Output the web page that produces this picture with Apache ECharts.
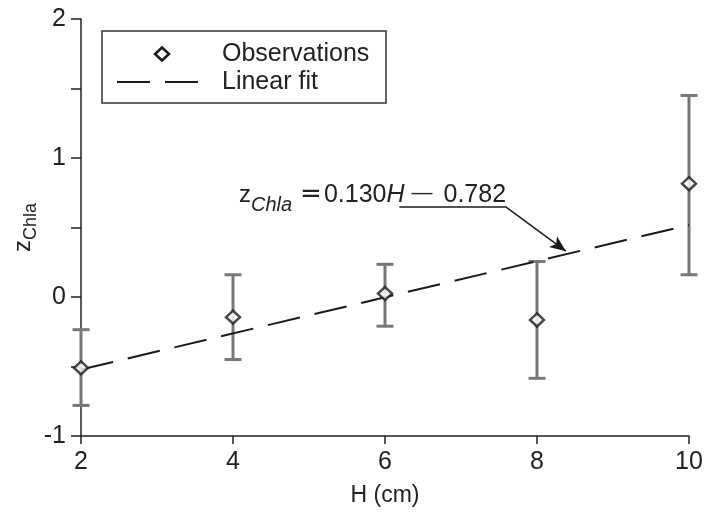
<!DOCTYPE html>
<html>
<head>
<meta charset="utf-8">
<script src="https://cdn.jsdelivr.net/npm/echarts@6/dist/echarts.min.js"></script>
<style>
  html, body { margin: 0; padding: 0; background: #fff; }
  #chart { width: 704px; height: 516px; }
</style>
</head>
<body>
<div id="chart"></div>
<script>
// Sediment thickness H (cm) and standardized chlorophyll-a response
const heights = [2, 4, 6, 8, 10];
const zMean = [-0.51, -0.145, 0.025, -0.165, 0.815];
const zLow = [-0.78, -0.45, -0.21, -0.585, 0.16];
const zHigh = [-0.235, 0.16, 0.235, 0.255, 1.45];

// Fitted line z = slope * H + intercept
const fitSlope = 0.130;
const fitIntercept = -0.782;
const fitRange = [2, 10];

// Equation callout: underline segment and arrow tip (data units)
const calloutUnderline = [[6.19, 0.652], [7.58, 0.652]];
const calloutArrowTip = [8.38, 0.33];

const legendNames = ['Observations', 'Linear fit'];

const FONT = '"Liberation Sans", Arial, Helvetica, sans-serif';
const INK = '#1a1a1a';
const TEXT = '#222';

const observations = heights.map((h, i) => [h, zMean[i]]);
const errorBars = heights.map((h, i) => [h, zLow[i], zHigh[i]]);
const fitLine = fitRange.map(h => [h, +(fitSlope * h + fitIntercept).toFixed(4)]);

const chart = echarts.init(document.getElementById('chart'), null, { renderer: 'canvas' });

chart.setOption({
  animation: false,
  backgroundColor: '#fff',
  grid: { left: 81, right: 15, top: 19, bottom: 80, containLabel: false, outerBoundsMode: 'none' },
  xAxis: {
    type: 'value', min: 2, max: 10, interval: 2,
    name: 'H (cm)', nameLocation: 'middle', nameGap: 48, nameMoveOverlap: false,
    nameTextStyle: { fontFamily: FONT, fontSize: 23, color: TEXT },
    axisLine: { onZero: false, lineStyle: { color: '#222', width: 1.5 } },
    axisTick: { length: 8, lineStyle: { color: '#222', width: 1.5 } },
    axisLabel: { fontFamily: FONT, fontSize: 25, color: TEXT, margin: 14 },
    splitLine: { show: false }
  },
  yAxis: {
    type: 'value', min: -1, max: 2, interval: 1,
    name: '{z|z}{s|Chla}', nameLocation: 'middle', nameGap: 46, nameRotate: 90, nameMoveOverlap: false,
    nameTextStyle: {
      rich: {
        z: { fontFamily: FONT, fontSize: 24, color: TEXT, lineHeight: 24 },
        s: { fontFamily: FONT, fontSize: 18, color: TEXT, lineHeight: 18, padding: [16, 0, 0, 0] }
      }
    },
    axisLine: { onZero: false, lineStyle: { color: '#222', width: 1.5 } },
    axisTick: { length: 10, lineStyle: { color: '#222', width: 1.5 } },
    minorTick: { show: true, splitNumber: 2, length: 10, lineStyle: { color: '#222', width: 1.5 } },
    axisLabel: { fontFamily: FONT, fontSize: 25, color: TEXT, margin: 15 },
    splitLine: { show: false }
  },
  series: [
    {
      name: 'Error',
      type: 'custom',
      data: errorBars,
      z: 2,
      silent: true,
      renderItem: function (params, api) {
        const x = api.value(0);
        const lo = api.coord([x, api.value(1)]);
        const hi = api.coord([x, api.value(2)]);
        const cap = 8.5;
        const style = { stroke: '#777', lineWidth: 3 };
        return {
          type: 'group',
          children: [
            { type: 'line', shape: { x1: lo[0], y1: lo[1], x2: hi[0], y2: hi[1] }, style: style },
            { type: 'line', shape: { x1: lo[0] - cap, y1: lo[1], x2: lo[0] + cap, y2: lo[1] }, style: style },
            { type: 'line', shape: { x1: hi[0] - cap, y1: hi[1], x2: hi[0] + cap, y2: hi[1] }, style: style }
          ]
        };
      }
    },
    {
      name: legendNames[1],
      type: 'line',
      data: fitLine,
      z: 3,
      symbol: 'none',
      silent: true,
      lineStyle: { color: INK, width: 2, type: [33, 15] },
      markLine: {
        silent: true,
        animation: false,
        symbol: 'none',
        lineStyle: { color: INK, width: 1.5, type: 'solid' },
        label: { show: false },
        data: [
          [{ coord: calloutUnderline[0] }, { coord: calloutUnderline[1] }],
          [{ coord: calloutUnderline[1] }, { coord: calloutArrowTip, symbol: 'arrow', symbolSize: [10, 16] }]
        ]
      }
    },
    {
      name: legendNames[0],
      type: 'scatter',
      data: observations,
      z: 4,
      symbol: 'diamond',
      symbolSize: [14, 13],
      itemStyle: { color: '#fff', borderColor: INK, borderWidth: 2.5 }
    }
  ]
});

// Equation text sits just above the callout underline, right-aligned to its end
const eqAnchor = chart.convertToPixel({ gridIndex: 0 }, calloutUnderline[1]);

// Legend box with a diamond marker and a dashed-line sample
const lgX = 102, lgY = 31;
chart.setOption({
  graphic: [
    {
      type: 'text',
      x: eqAnchor[0] + 1,
      y: eqAnchor[1] - 11,
      z: 10,
      silent: true,
      style: {
        text: '{z|z}{s|Chla}{o|=}{n|0.130}{i|H}{m|\u2014}{n|0.782}',
        align: 'right',
        verticalAlign: 'middle',
        rich: {
          z: { fontFamily: FONT, fontSize: 24, fill: TEXT, lineHeight: 24 },
          s: { fontFamily: FONT, fontSize: 20, fontStyle: 'italic', fill: TEXT, lineHeight: 20, padding: [20, 0, 0, 0] },
          o: { fontFamily: '"DejaVu Sans", sans-serif', fontSize: 26, fill: TEXT, lineHeight: 24, padding: [0, 2, 0, 8] },
          n: { fontFamily: FONT, fontSize: 25, fill: TEXT, lineHeight: 24 },
          i: { fontFamily: FONT, fontSize: 25, fontStyle: 'italic', fill: TEXT, lineHeight: 24 },
          m: { fontFamily: FONT, fontSize: 21, fill: TEXT, lineHeight: 24, padding: [0, 11, 4, 7] }
        }
      }
    },
    {
      type: 'group',
      x: lgX, y: lgY, z: 10,
      silent: true,
      children: [
        { type: 'rect', shape: { x: 0, y: 0, width: 284, height: 72 }, style: { fill: '#fff', stroke: '#333', lineWidth: 1.5 } },
        { type: 'polygon', shape: { points: [[60, 16.5], [67, 23], [60, 29.5], [53, 23]] }, style: { fill: '#fff', stroke: INK, lineWidth: 2.5 } },
        { type: 'line', shape: { x1: 15, y1: 51, x2: 96, y2: 51 }, style: { stroke: INK, lineWidth: 2, lineDash: [33, 15] } },
        { type: 'text', x: 120, y: 23, style: { text: legendNames[0], fontFamily: FONT, fontSize: 25, fill: TEXT, verticalAlign: 'middle' } },
        { type: 'text', x: 120, y: 51, style: { text: legendNames[1], fontFamily: FONT, fontSize: 25, fill: TEXT, verticalAlign: 'middle' } }
      ]
    }
  ]
});
</script>
</body>
</html>
